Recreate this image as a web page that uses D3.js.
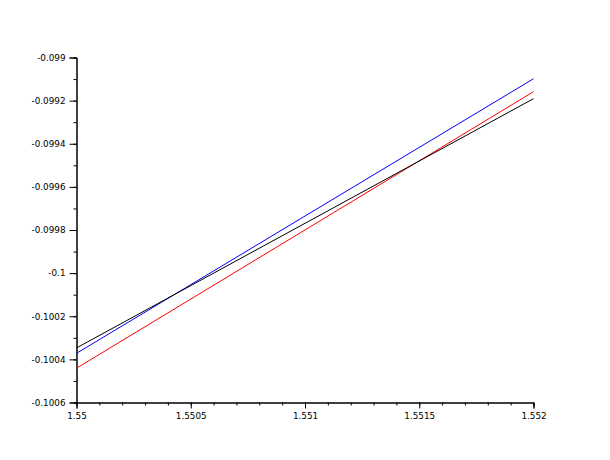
<!DOCTYPE html>
<html>
<head>
<meta charset="utf-8">
<script src="https://cdn.jsdelivr.net/npm/d3@7"></script>
<style>
  body { margin: 0; background: #fff; }
  text { font-family: "DejaVu Sans", sans-serif; font-size: 8.8px; fill: #000; }
</style>
</head>
<body>
<svg id="chart" width="610" height="460"></svg>
<script>
// x values where each line was read
var xs = [1.55, 1.552];

// series values
var blackVals = [-0.100347, -0.099191];
var blueVals = [-0.100372, -0.0990985];
var redVals = [-0.100441, -0.0991586];

var xTicks = [1.55, 1.5505, 1.551, 1.5515, 1.552];
var xTickLabels = ['1.55', '1.5505', '1.551', '1.5515', '1.552'];
var yTicks = [-0.099, -0.0992, -0.0994, -0.0996, -0.0998, -0.1, -0.1002, -0.1004, -0.1006];
var yTickLabels = ['-0.099', '-0.0992', '-0.0994', '-0.0996', '-0.0998', '-0.1', '-0.1002', '-0.1004', '-0.1006'];

var series = [
  { name: 'blue', values: blueVals, colour: '#0000ff' },
  { name: 'red', values: redVals, colour: '#ff0000' },
  { name: 'black', values: blackVals, colour: '#000000' }
];

var margins = { top: 57.5, left: 76.5, right: 76.5, bottom: 57.5 },
    width = 610 - margins.left - margins.right,
    height = 460 - margins.top - margins.bottom;

var svg = d3.select('#chart');
var g = svg.append('g').attr('transform', 'translate(' + margins.left + ',' + margins.top + ')');

var xScale = d3.scaleLinear().domain([1.55, 1.552]).range([0, width]);
var yScale = d3.scaleLinear().domain([-0.1006, -0.099]).range([height, 0]);

// minor ticks
var xMinor = d3.range(0, 21).map(function(i) { return 1.55 + i * 0.0001; });
var yMinor = d3.range(0, 17).map(function(i) { return -0.1006 + i * 0.0001; });

var xAxisMinor = d3.axisBottom(xScale).tickValues(xMinor).tickSize(3).tickFormat('');
var yAxisMinor = d3.axisLeft(yScale).tickValues(yMinor).tickSize(3).tickFormat('');

var xAxis = d3.axisBottom(xScale)
    .tickValues(xTicks)
    .tickSize(6)
    .tickPadding(4)
    .tickFormat(function(d, i) { return xTickLabels[i]; });

var yAxis = d3.axisLeft(yScale)
    .tickValues(yTicks)
    .tickSize(7)
    .tickPadding(4)
    .tickFormat(function(d, i) { return yTickLabels[i]; });

function styleAxis(sel) {
  sel.selectAll('path').attr('stroke', '#000').attr('stroke-width', 1);
  sel.selectAll('line').attr('stroke', '#000').attr('stroke-width', 1);
  sel.selectAll('text').attr('font-family', null).attr('font-size', null);
}

g.append('g').attr('transform', 'translate(0,' + height + ')').call(xAxisMinor).call(styleAxis);
g.append('g').call(yAxisMinor).call(styleAxis);
g.append('g').attr('transform', 'translate(0,' + height + ')').call(xAxis).call(styleAxis);
g.append('g').call(yAxis).call(styleAxis);

var line = d3.line()
    .x(function(d) { return xScale(d.x); })
    .y(function(d) { return yScale(d.y); });

g.selectAll('.series')
  .data(series)
  .enter().append('path')
    .attr('class', 'series')
    .attr('fill', 'none')
    .attr('stroke', function(d) { return d.colour; })
    .attr('stroke-width', 1)
    .attr('d', function(d) {
      return line(d.values.map(function(v, i) { return { x: xs[i], y: v }; }));
    });
</script>
</body>
</html>
